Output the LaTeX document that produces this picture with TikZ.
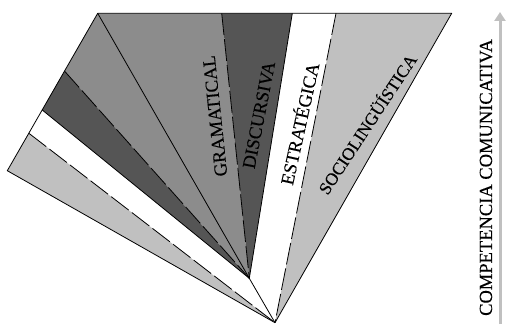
\documentclass[tikz,border=0pt]{standalone}
\usepackage{fontspec}
\setmainfont{Liberation Serif}
\newfontfamily\lblfont[FakeBold=0.25]{Liberation Serif}
\usepackage{tikz}
\usetikzlibrary{arrows.meta,calc}

\definecolor{midgray}{HTML}{8C8C8C}
\definecolor{darkgray}{HTML}{555555}
\definecolor{lightgray}{HTML}{C0C0C0}

\begin{document}
\begin{tikzpicture}[x=1pt,y=1pt,
edge/.style={draw=black,line width=0.8pt,line join=round},
dashedge/.style={edge,dash pattern=on 22pt off 4pt},
lbl/.style={inner sep=0pt,font=\lblfont\fontsize{18.5}{20}\selectfont,text=black},
axis/.style={draw=lightgray,line width=3pt,-{Triangle[width=11pt,length=9pt]}}]
\useasboundingbox (0,0) rectangle (506,324);
\coordinate (tl) at (97.7,310.7);
\coordinate (tr) at (451.7,310.7);
\coordinate (bl) at (7.3,153.3);
\coordinate (l1) at ($(tl)!0.762!(bl)$);
\coordinate (l2) at ($(tl)!0.614!(bl)$);
\coordinate (l3) at ($(tl)!0.367!(bl)$);
\coordinate (t1) at (221.7,310.7);
\coordinate (t2) at (292.3,310.7);
\coordinate (t3) at (336,310.7);
\coordinate (apexb) at (249.3,45.7);
\coordinate (apexa) at (275,1.3);
\fill[midgray] (l3) -- (tl) -- (t1) -- (apexb) -- cycle;
\fill[darkgray] (t1) -- (t2) -- (apexb) -- cycle;
\fill[darkgray] (l3) -- (l2) -- (apexb) -- cycle;
\fill[lightgray] (t3) -- (tr) -- (apexa) -- cycle;
\fill[lightgray] (l1) -- (bl) -- (apexa) -- cycle;
\draw[edge] (apexa) -- (bl) -- (tl) -- (tr) -- cycle;
\draw[edge] (tl) -- (apexb);
\draw[edge] (l2) -- (apexb);
\draw[edge] (t2) -- (apexb) -- (apexa);
\draw[dashedge] (l3) -- (apexb);
\draw[dashedge] (t1) -- (apexb);
\draw[dashedge] (t3) -- (apexa);
\draw[dashedge] (l1) -- (apexa);
\node[lbl,rotate=96] (gram) at (215,208) {GRAMATICAL};
\node[lbl,rotate=79] (disc) at (259,209) {DISCURSIVA};
\node[lbl,rotate=77.6] (estr) at (298.5,200.5) {ESTRATÉGICA};
\node[lbl,rotate=56.6,font=\lblfont\fontsize{17.5}{19}\selectfont] (soci) at (366.5,200.5) {SOCIOLINGÜÍSTICA};
\coordinate (axbot) at (500,0);
\coordinate (axtop) at (500,312);
\draw[axis] (axbot) -- (axtop);
\node[lbl,rotate=90] (comp) at (486,146.5) {COMPETENCIA COMUNICATIVA};
\end{tikzpicture}
\end{document}
